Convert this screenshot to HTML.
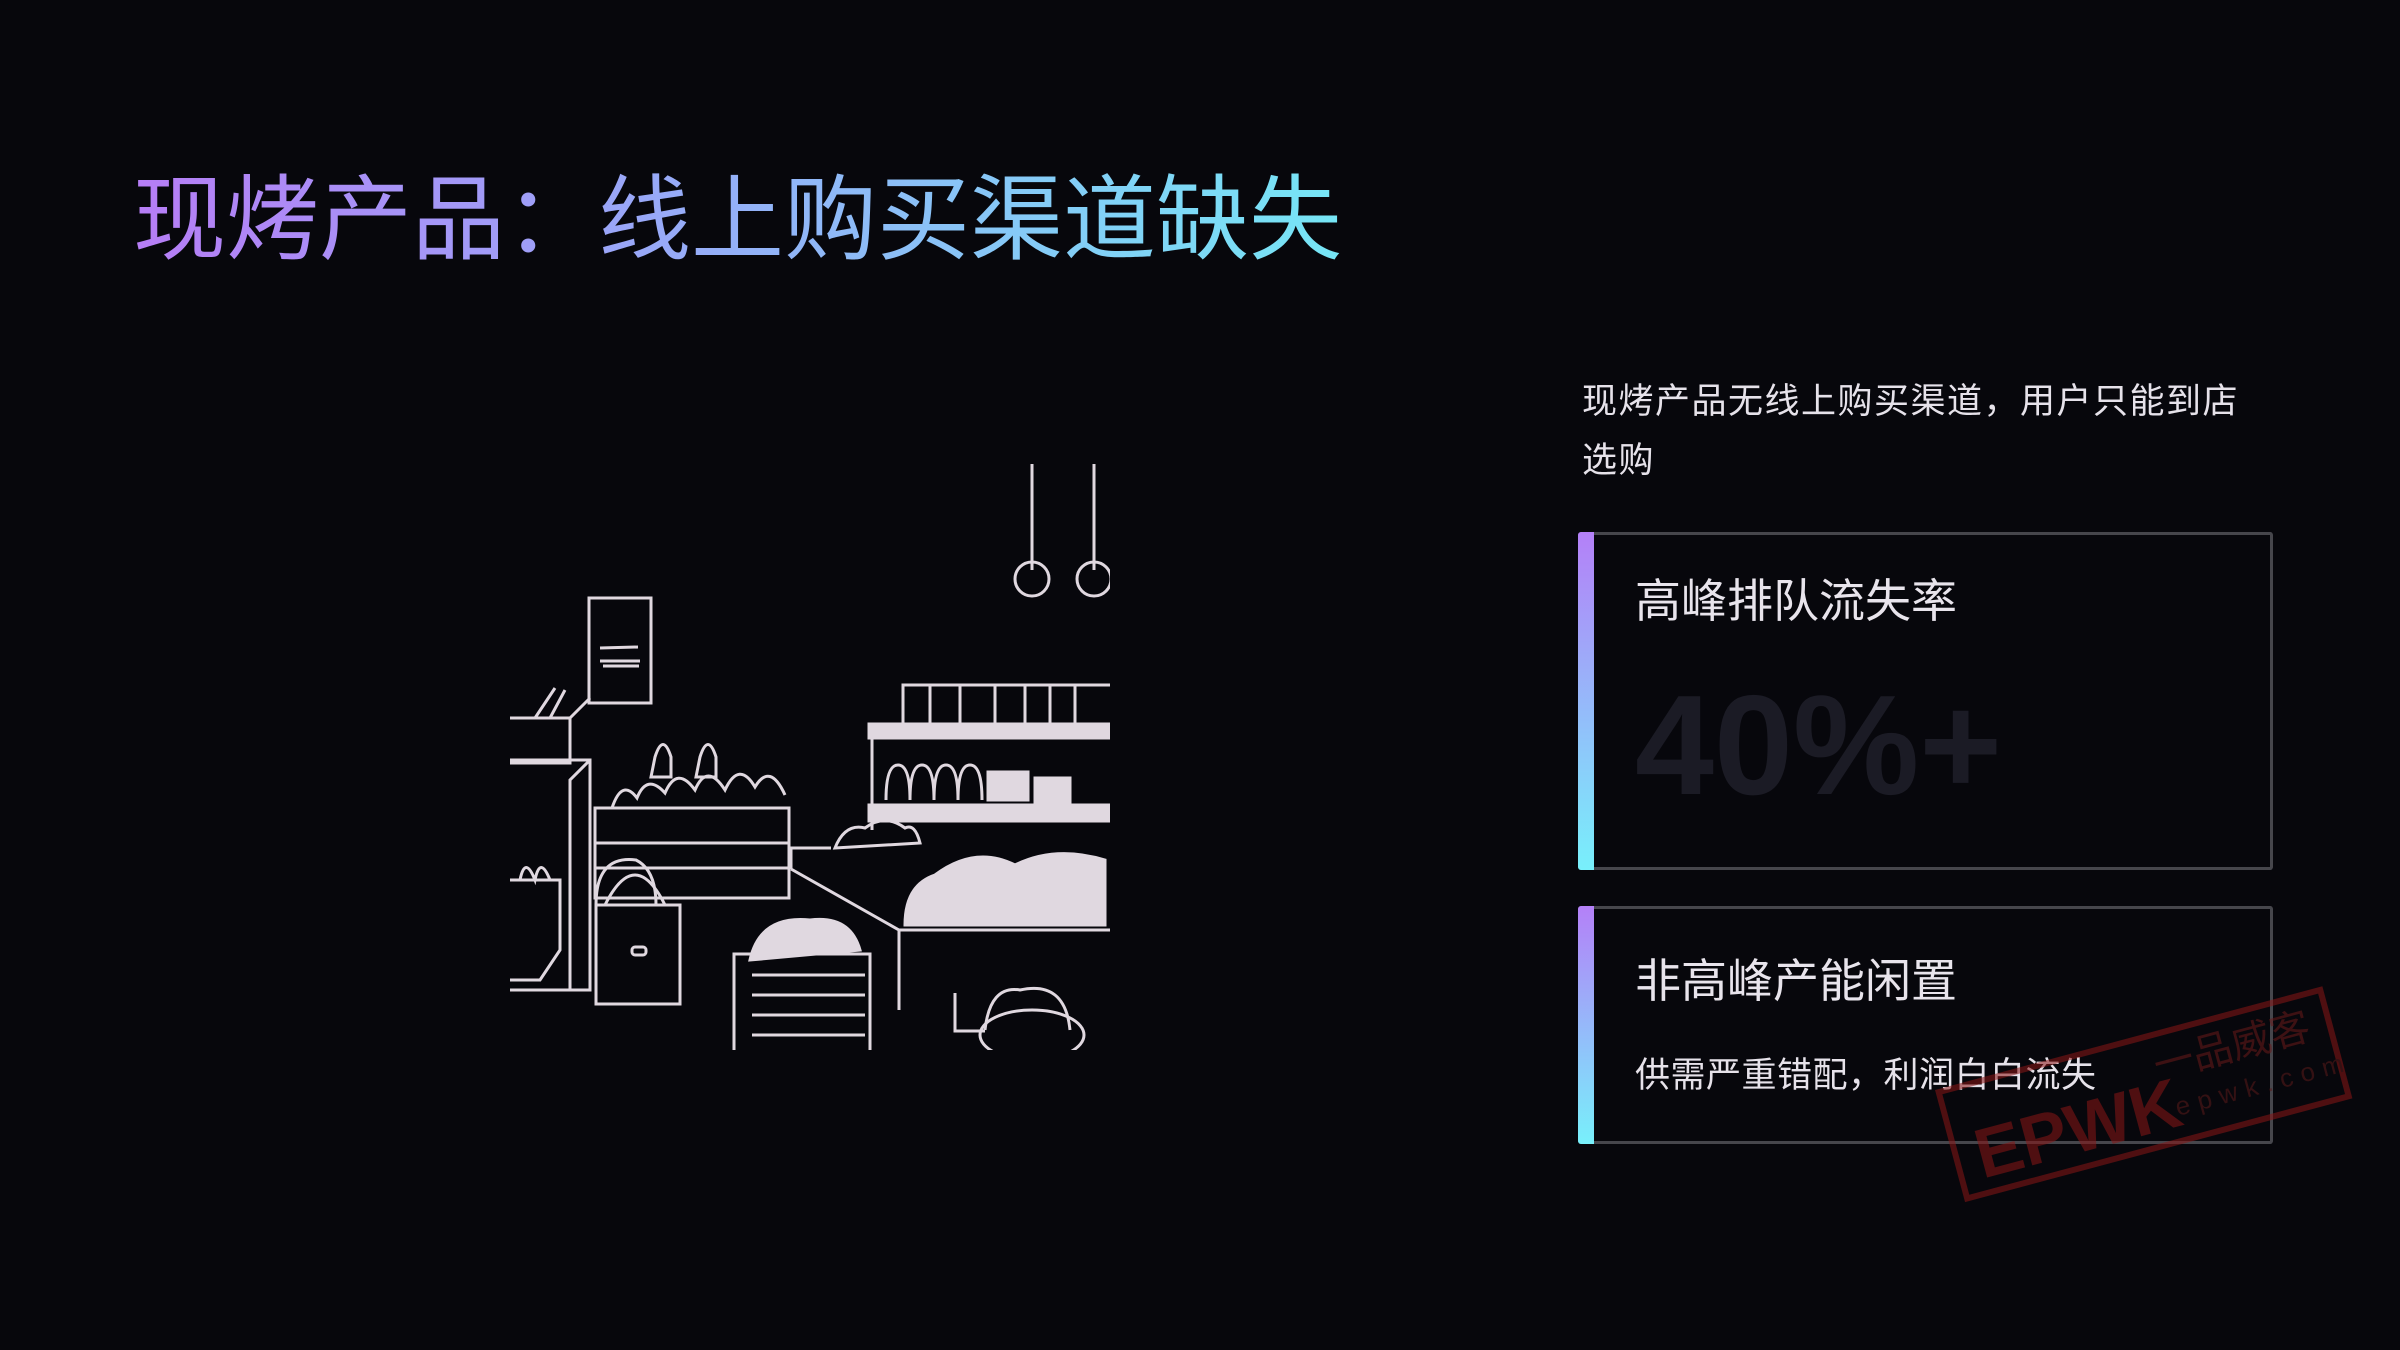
<!DOCTYPE html>
<html><head><meta charset="utf-8">
<style>
html,body{margin:0;padding:0;}
body{width:2400px;height:1350px;background:#07070c;position:relative;overflow:hidden;font-family:"Liberation Sans","Noto Sans CJK SC",sans-serif;}
.title{position:absolute;left:133px;top:160px;font-size:93px;line-height:120px;white-space:nowrap;letter-spacing:0px;
background:linear-gradient(90deg,#b67df6 0%,#9aa6f8 40%,#76e6f6 100%);-webkit-background-clip:text;background-clip:text;color:transparent;}
.para{position:absolute;left:1582px;top:372px;width:720px;font-size:35px;letter-spacing:1.5px;line-height:59px;color:#e6e2ea;}
.card{position:absolute;left:1578px;width:695px;border:3px solid #46464c;border-left:none;border-radius:3px;box-sizing:border-box;}
.bar{position:absolute;left:0;top:-3px;bottom:-3px;width:16px;background:linear-gradient(180deg,#b480f8,#78f0fb);border-radius:3px 0 0 3px;}
.ct{position:absolute;left:57px;font-size:46px;color:#e8e4ec;white-space:nowrap;}
.big{position:absolute;left:57px;top:140px;font-size:142px;font-weight:bold;color:#1b1b25;line-height:1;}
.sub{position:absolute;left:57px;font-size:35px;letter-spacing:0.5px;color:#e6e2ea;white-space:nowrap;}
</style></head><body>
<div class="title">现烤产品：线上购买渠道缺失</div>
<div class="para">现烤产品无线上购买渠道，用户只能到店<br>选购</div>
<div class="card" style="top:532px;height:338px;"><div class="bar"></div>
<div class="ct" style="top:30px;">高峰排队流失率</div>
<div class="big">40%+</div></div>
<div class="card" style="top:906px;height:238px;"><div class="bar"></div>
<div class="ct" style="top:36px;">非高峰产能闲置</div>
<div class="sub" style="top:138px;">供需严重错配，利润白白流失</div></div>

<svg style="position:absolute;left:0;top:0" width="2400" height="1350">
<defs><clipPath id="c"><rect x="510" y="450" width="600" height="600"/></clipPath></defs>
<g clip-path="url(#c)" stroke="#e0d8e0" stroke-width="3" fill="none">
<line x1="1032" y1="464" x2="1032" y2="570"/><circle cx="1032" cy="579" r="17"/>
<line x1="1094" y1="464" x2="1094" y2="570"/><circle cx="1094" cy="579" r="17"/>
<rect x="589" y="598" width="62" height="105"/>
<line x1="600" y1="648" x2="638" y2="647"/><line x1="600" y1="661" x2="640" y2="661"/><line x1="603" y1="666" x2="639" y2="666"/>
<rect x="903" y="685" width="210" height="39"/>
<line x1="930" y1="685" x2="930" y2="724"/><line x1="960" y1="685" x2="960" y2="724"/><line x1="995" y1="685" x2="995" y2="724"/><line x1="1025" y1="685" x2="1025" y2="724"/><line x1="1050" y1="685" x2="1050" y2="724"/><line x1="1075" y1="685" x2="1075" y2="724"/>
<rect x="869" y="724" width="250" height="14" fill="#e0d8e0"/>
<rect x="869" y="805" width="250" height="16" fill="#e0d8e0"/>
<line x1="872" y1="724" x2="872" y2="830"/>
<path d="M886 800 q0 -35 12 -35 q12 0 12 35 q0 -35 12 -35 q12 0 12 35 q0 -35 12 -35 q12 0 12 35 q0 -35 12 -35 q12 0 12 35"/>
<path d="M988 772 h40 v28 h-40z M1035 778 h35 v24 h-35z" fill="#e0d8e0"/>
<rect x="595" y="808" width="194" height="90"/><line x1="595" y1="843" x2="789" y2="843"/><line x1="595" y1="868" x2="789" y2="868"/>
<path d="M612 808 q10 -30 25 -10 q10 -25 28 -5 q12 -28 30 -3 q12 -28 30 0 q14 -30 30 -3 q15 -25 30 8"/>
<path d="M655 757 q8 -25 16 0 v20 h-20z M700 757 q8 -25 16 0 v20 h-20z"/>
<rect x="596" y="905" width="84" height="99"/><path d="M605 905 q30 -60 60 0"/><rect x="632" y="947" width="14" height="8" rx="3"/>
<path d="M596 905 q0 -50 40 -45 q20 10 20 45"/>
<rect x="734" y="954" width="136" height="108"/>
<line x1="752" y1="975" x2="865" y2="975"/><line x1="752" y1="995" x2="865" y2="995"/><line x1="752" y1="1015" x2="865" y2="1015"/><line x1="752" y1="1035" x2="865" y2="1035"/><line x1="752" y1="1052" x2="865" y2="1052"/>
<path d="M750 960 q10 -45 60 -40 q40 -5 50 30z" fill="#e0d8e0"/>
<path d="M791 869 L899 930 H1115 M899 930 V1010 M791 869 V848 h40"/>
<path d="M835 848 q10 -25 30 -20 q20 -15 40 0 q10 -5 15 15z"/>
<path d="M905 925 q0 -40 30 -50 q40 -30 80 -10 q40 -20 90 -5 v65z" fill="#e0d8e0"/>
<ellipse cx="1032" cy="1035" rx="52" ry="25"/><path d="M985 1030 q5 -45 35 -40 q45 -10 50 40"/>
<path d="M955 993 v38 h30"/>
<path d="M510 718 h60 v45 h-60 M570 718 l20 -20 M535 718 l20 -30 M550 718 l15 -28 M510 760 h80 v230 h-80 M590 760 l-20 20 v210"/>
<path d="M510 880 h50 v70 l-20 30 h-30 M520 880 q5 -25 15 0 q5 -25 15 0"/>
</g>
<g transform="rotate(-15 2140 1090)" opacity="0.55">
<rect x="1945" y="1040" width="395" height="110" fill="none" stroke="#8a1616" stroke-width="6"/>
<text x="1965" y="1135" font-family="Liberation Sans,sans-serif" font-size="70" font-weight="bold" fill="#8a1616">EPWK</text>
<text x="2160" y="1085" font-family="Liberation Sans,Noto Sans CJK SC,sans-serif" font-size="40" fill="#6a1a1a">一品威客</text>
<text x="2170" y="1125" font-family="Liberation Sans,sans-serif" font-size="26" fill="#5a1a1a" letter-spacing="8">epwk.com</text>
</g>
</svg>
</body></html>
